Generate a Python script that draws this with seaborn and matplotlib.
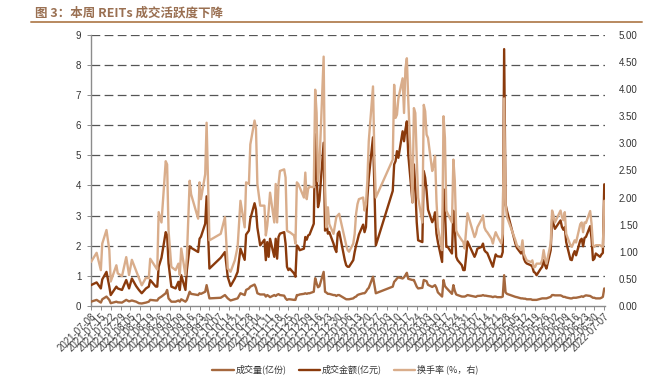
import matplotlib
matplotlib.use("Agg")
import matplotlib.pyplot as plt
import matplotlib.dates as mdates
from matplotlib.lines import Line2D
from matplotlib.ticker import FormatStrFormatter
import seaborn as sns
import pandas as pd

# ---------------- data ----------------
dates = [
    "2021-07-08","2021-07-12","2021-07-15","2021-07-16","2021-07-19","2021-07-21","2021-07-22","2021-07-26",
    "2021-07-27","2021-07-30","2021-08-02","2021-08-04","2021-08-06","2021-08-09","2021-08-11","2021-08-13",
    "2021-08-16","2021-08-18","2021-08-19","2021-08-23","2021-08-24","2021-08-25","2021-08-27","2021-08-30",
    "2021-08-31","2021-09-01","2021-09-03","2021-09-06","2021-09-08","2021-09-09","2021-09-10","2021-09-13",
    "2021-09-14","2021-09-16","2021-09-17","2021-09-22","2021-09-23","2021-09-24","2021-09-27","2021-09-28",
    "2021-09-30","2021-10-08","2021-10-11","2021-10-13","2021-10-15","2021-10-18","2021-10-20","2021-10-22",
    "2021-10-25","2021-10-26","2021-10-28","2021-10-29","2021-11-01","2021-11-02","2021-11-03","2021-11-05",
    "2021-11-08","2021-11-09","2021-11-10","2021-11-11","2021-11-12","2021-11-15","2021-11-16","2021-11-17",
    "2021-11-18","2021-11-19","2021-11-22","2021-11-23","2021-11-24","2021-11-25","2021-11-26","2021-11-29",
    "2021-11-30","2021-12-01","2021-12-02","2021-12-03","2021-12-06","2021-12-07","2021-12-08","2021-12-09",
    "2021-12-10","2021-12-13","2021-12-14","2021-12-15","2021-12-16","2021-12-17","2021-12-20","2021-12-21",
    "2021-12-22","2021-12-23","2021-12-24","2021-12-27","2021-12-28","2021-12-29","2021-12-30","2021-12-31",
    "2022-01-04","2022-01-05","2022-01-06","2022-01-07","2022-01-10","2022-01-11","2022-01-12","2022-01-13",
    "2022-01-14","2022-01-17","2022-01-18","2022-01-19","2022-01-20","2022-01-21","2022-01-24","2022-01-25",
    "2022-01-26","2022-02-07","2022-02-08","2022-02-09","2022-02-10","2022-02-11","2022-02-14","2022-02-15",
    "2022-02-16","2022-02-17","2022-02-18","2022-02-21","2022-02-22","2022-02-23","2022-02-24","2022-02-25",
    "2022-02-28","2022-03-01","2022-03-02","2022-03-03","2022-03-04","2022-03-07","2022-03-08","2022-03-09",
    "2022-03-10","2022-03-11","2022-03-14","2022-03-15","2022-03-16","2022-03-17","2022-03-18","2022-03-21",
    "2022-03-22","2022-03-23","2022-03-24","2022-03-25","2022-03-28","2022-03-29","2022-03-30","2022-03-31",
    "2022-04-01","2022-04-06","2022-04-07","2022-04-08","2022-04-11","2022-04-12","2022-04-13","2022-04-14",
    "2022-04-15","2022-04-18","2022-04-19","2022-04-20","2022-04-21","2022-04-22","2022-04-25","2022-04-26",
    "2022-04-27","2022-04-28","2022-04-29","2022-05-05","2022-05-06","2022-05-09","2022-05-10","2022-05-11",
    "2022-05-12","2022-05-13","2022-05-16","2022-05-17","2022-05-18","2022-05-19","2022-05-20","2022-05-23",
    "2022-05-24","2022-05-25","2022-05-26","2022-05-27","2022-05-30","2022-05-31","2022-06-01","2022-06-02",
    "2022-06-06","2022-06-07","2022-06-08","2022-06-09","2022-06-10","2022-06-13","2022-06-14","2022-06-15",
    "2022-06-16","2022-06-17","2022-06-20","2022-06-21","2022-06-22","2022-06-23","2022-06-24","2022-06-27",
    "2022-06-28","2022-06-29","2022-06-30","2022-07-01","2022-07-04","2022-07-05","2022-07-06","2022-07-07",
]

volume = [  # 成交量(亿份)
    0.14,0.20,0.11,0.22,0.31,0.20,0.09,0.14, 0.12,0.11,0.20,0.15,0.18,0.14,0.09,0.08,
    0.11,0.14,0.20,0.18,0.18,0.25,0.31,0.42, 0.53,0.25,0.14,0.14,0.18,0.14,0.22,0.14,
    0.20,0.47,0.40,0.36,0.42,0.40,0.47,0.69, 0.25,0.27,0.36,0.25,0.18,0.22,0.25,0.42,
    0.36,0.53,0.58,0.64,0.71,0.60,0.42,0.38, 0.38,0.31,0.36,0.33,0.29,0.36,0.33,0.37,
    0.39,0.36,0.34,0.25,0.20,0.22,0.22,0.20, 0.20,0.36,0.36,0.38,0.40,0.42,0.40,0.42,
    0.42,0.47,0.92,0.75,0.62,0.65,1.13,0.47, 0.44,0.40,0.40,0.36,0.36,0.33,0.36,0.36,
    0.25,0.22,0.22,0.22,0.25,0.29,0.31,0.36, 0.38,0.42,0.42,0.47,0.55,0.60,0.97,0.70,
    0.42,0.64,0.80,0.85,0.91,0.95,0.91,0.95, 1.02,1.10,0.90,0.86,0.86,0.75,0.64,0.58,
    0.60,0.86,0.84,0.82,0.70,0.63,0.66,0.69, 0.60,0.45,0.31,0.86,0.66,0.60,0.55,0.40,
    0.69,0.50,0.38,0.36,0.31,0.31,0.31,0.33, 0.36,0.31,0.30,0.33,0.34,0.36,0.34,0.34,
    0.33,0.31,0.29,0.31,0.31,0.29,0.29,0.31, 1.02,0.45,0.40,0.30,0.29,0.25,0.25,0.24,
    0.24,0.22,0.22,0.20,0.20,0.20,0.20,0.24, 0.25,0.25,0.25,0.25,0.30,0.36,0.36,0.35,
    0.35,0.33,0.30,0.30,0.28,0.25,0.25,0.27, 0.27,0.27,0.30,0.32,0.30,0.33,0.35,0.33,
    0.30,0.27,0.27,0.25,0.25,0.27,0.30,0.58,
]

amount = [  # 成交金额(亿元)
    0.69,0.78,0.58,0.88,1.13,0.64,0.36,0.64, 0.58,0.53,0.86,0.58,0.91,0.66,0.53,0.42,
    0.58,0.64,0.86,0.64,0.64,1.30,1.60,2.45, 2.35,1.41,0.64,0.58,0.80,0.53,1.02,0.53,
    1.19,1.98,1.93,1.79,2.23,2.30,2.73,3.64, 1.24,1.60,1.79,0.96,0.66,0.91,1.13,1.90,
    1.53,2.37,2.50,2.89,3.41,3.20,2.60,2.01, 2.20,1.52,2.12,1.63,2.23,1.63,2.23,1.57,
    2.29,2.40,2.45,2.07,1.30,1.19,1.24,1.08, 0.97,2.01,1.96,1.85,1.90,2.29,2.20,2.34,
    2.37,2.73,5.70,4.40,3.28,3.50,5.42,2.50, 2.78,2.40,2.45,2.07,1.90,1.79,2.40,2.47,
    1.52,1.35,1.30,1.30,1.52,1.79,2.01,2.18, 2.37,2.70,2.45,2.62,3.60,4.26,5.60,3.93,
    2.01,3.82,4.70,4.81,5.14,4.92,5.80,5.47, 5.86,6.13,5.03,3.44,4.70,3.93,2.78,2.18,
    2.12,4.48,4.26,3.82,3.20,2.78,2.89,3.11, 2.40,2.12,1.46,3.88,3.22,1.96,1.96,1.74,
    3.16,2.62,1.63,1.52,1.35,1.19,1.19,1.63, 2.14,1.63,1.74,1.90,1.96,2.07,1.85,1.79,
    1.76,1.41,1.30,1.52,1.71,1.65,1.63,1.79, 8.53,3.38,3.16,2.07,1.93,1.74,1.96,1.57,
    1.46,1.41,1.35,1.30,1.13,1.10,1.02,1.24, 1.30,1.52,1.35,1.24,1.85,2.89,2.73,2.56,
    2.84,2.62,2.53,2.62,2.12,1.54,1.52,1.71, 1.82,1.68,2.18,2.23,1.98,2.26,2.29,2.65,
    2.23,1.52,1.57,1.74,1.63,1.71,1.76,4.04,
]

turnover = [  # 换手率(%，右)
    0.81,0.98,0.66,1.15,1.40,1.03,0.45,0.75, 0.60,0.55,0.90,0.57,0.85,0.65,0.52,0.38,
    0.52,0.51,0.87,0.71,0.67,1.73,1.54,2.67, 2.61,1.39,0.72,0.66,0.78,0.57,1.06,0.57,
    0.90,2.31,2.06,1.61,2.28,1.97,2.43,3.38, 1.21,1.33,1.64,0.69,0.63,0.84,1.09,1.94,
    1.45,2.28,2.25,2.98,3.42,3.28,2.25,1.85, 1.85,1.30,1.48,1.76,2.09,1.54,2.25,1.54,
    2.25,2.49,2.52,2.37,1.39,1.37,1.36,1.30, 1.15,2.28,2.25,2.19,2.00,2.46,1.97,2.16,
    2.20,2.19,3.99,3.56,2.30,2.60,4.60,2.19, 1.45,1.82,1.51,1.33,1.48,1.64,1.67,1.70,
    1.24,1.12,1.03,1.00,1.15,1.33,1.70,1.88, 1.97,2.00,1.76,1.88,2.31,3.04,4.05,2.74,
    2.00,2.70,4.08,3.47,3.53,3.83,4.20,3.56, 4.38,4.57,3.80,1.91,3.65,3.56,2.74,2.00,
    1.54,3.71,3.59,3.16,3.10,2.49,2.61,2.77, 1.94,1.45,1.03,3.50,3.10,1.76,1.70,1.54,
    2.70,2.31,1.39,1.33,1.21,1.18,1.06,1.39, 1.71,1.27,1.33,1.45,1.60,1.67,1.45,1.39,
    1.36,1.24,1.15,1.27,1.36,1.30,1.15,1.33, 3.83,1.88,1.64,1.21,1.12,1.03,1.21,0.96,
    0.90,0.84,0.81,0.84,0.71,0.72,0.78,0.78, 0.85,1.03,0.87,0.78,1.15,1.76,1.67,1.54,
    1.76,1.64,1.58,1.73,1.33,1.12,1.09,1.15, 1.21,1.17,1.51,1.54,1.36,1.54,1.53,1.75,
    1.51,1.12,1.09,1.12,1.12,1.10,1.09,1.94,
]

series_labels = ["成交量(亿份)", "成交金额(亿元)", "换手率 (%，右)"]
title_text = "图 3：本周 REITs 成交活跃度下降"
left_ticks = list(range(0, 10))
right_ticks = [0.0, 0.5, 1.0, 1.5, 2.0, 2.5, 3.0, 3.5, 4.0, 4.5, 5.0]
tick_start, tick_end = "2021-07-08", "2022-07-07"

# ---------------- style ----------------
sns.set_theme(style="white")
plt.rcParams["font.family"] = ["Liberation Sans", "Noto Sans CJK SC", "DejaVu Sans"]
plt.rcParams["axes.unicode_minus"] = False

c_vol = "#A5683E"
c_amt = "#8A3A0C"
c_turn = "#D9AD8B"
lw = 1.7

df = pd.DataFrame({"date": pd.to_datetime(dates), "vol": volume, "amt": amount, "turn": turnover})

fig = plt.figure(figsize=(6.67, 3.8), dpi=100)
ax = fig.add_axes([0.1364, 0.195, 0.7706, 0.713])

# dashed horizontal grid lines at the left-axis ticks (drawn first, underneath)
for yv in left_ticks[1:]:
    ax.axhline(yv, color="#555555", linestyle=(0, (7, 3.5)), linewidth=0.9, zorder=0.5)

ax2 = ax.twinx()

sns.lineplot(data=df, x="date", y="vol", ax=ax, color=c_vol, linewidth=lw, legend=False, zorder=3)
sns.lineplot(data=df, x="date", y="amt", ax=ax, color=c_amt, linewidth=lw, legend=False, zorder=3)
sns.lineplot(data=df, x="date", y="turn", ax=ax2, color=c_turn, linewidth=lw, legend=False, zorder=3)

ax.set_ylim(0, 9)
ax2.set_ylim(0, 5)
ax.set_yticks(left_ticks)
ax2.set_yticks(right_ticks)
ax2.yaxis.set_major_formatter(FormatStrFormatter("%.2f"))

ticks = pd.date_range(tick_start, tick_end, freq="7D")
ax.set_xlim(pd.Timestamp(tick_start), pd.Timestamp(tick_end) + pd.Timedelta(days=0.5))
ax.set_xticks(ticks)
ax.xaxis.set_major_formatter(mdates.DateFormatter("%Y-%m-%d"))

ax.set_xlabel("")
ax.set_ylabel("")
ax2.set_ylabel("")

for a in (ax, ax2):
    a.spines["top"].set_visible(False)
    a.spines["right"].set_visible(False)
ax2.spines["left"].set_visible(False)
ax2.spines["bottom"].set_visible(False)
ax.spines["left"].set_color("#8c8c8c")
ax.spines["bottom"].set_color("#8c8c8c")
ax.spines["left"].set_linewidth(1.0)
ax.spines["bottom"].set_linewidth(1.0)

ax.tick_params(axis="x", which="major", bottom=True, direction="out", length=3, width=0.7,
               color="#8c8c8c", labelsize=7, pad=1, labelcolor="#444444")
ax.tick_params(axis="y", left=True, direction="out", length=3, width=0.7, color="#8c8c8c",
               labelsize=7, pad=4, labelcolor="#333333")
ax2.tick_params(axis="y", right=False, length=0, labelsize=7, pad=10, labelcolor="#333333")
for lab in ax.get_xticklabels():
    lab.set_rotation(45)
    lab.set_ha("right")
    lab.set_rotation_mode("anchor")

# title and rule
fig.text(0.052, 0.966, title_text, fontsize=9, fontweight="bold", color="#9A7052",
         ha="left", va="center", family=["Noto Sans CJK SC", "DejaVu Sans"])
fig.add_artist(Line2D([0.047, 0.962], [0.941, 0.941], color="#B8895F", linewidth=1.4))

# legend
h1 = Line2D([], [], color=c_vol, linewidth=lw)
h2 = Line2D([], [], color=c_amt, linewidth=lw)
h3 = Line2D([], [], color=c_turn, linewidth=lw)
leg = fig.legend([h1, h2, h3], series_labels, loc="center", bbox_to_anchor=(0.518, 0.027),
                 ncol=3, frameon=False, handlelength=2.4, handletextpad=0.2, columnspacing=1.3,
                 prop={"family": ["Noto Sans CJK SC", "DejaVu Sans"], "size": 6.5})
for t in leg.get_texts():
    t.set_color("#333333")

fig.savefig("out.png", dpi=100)
